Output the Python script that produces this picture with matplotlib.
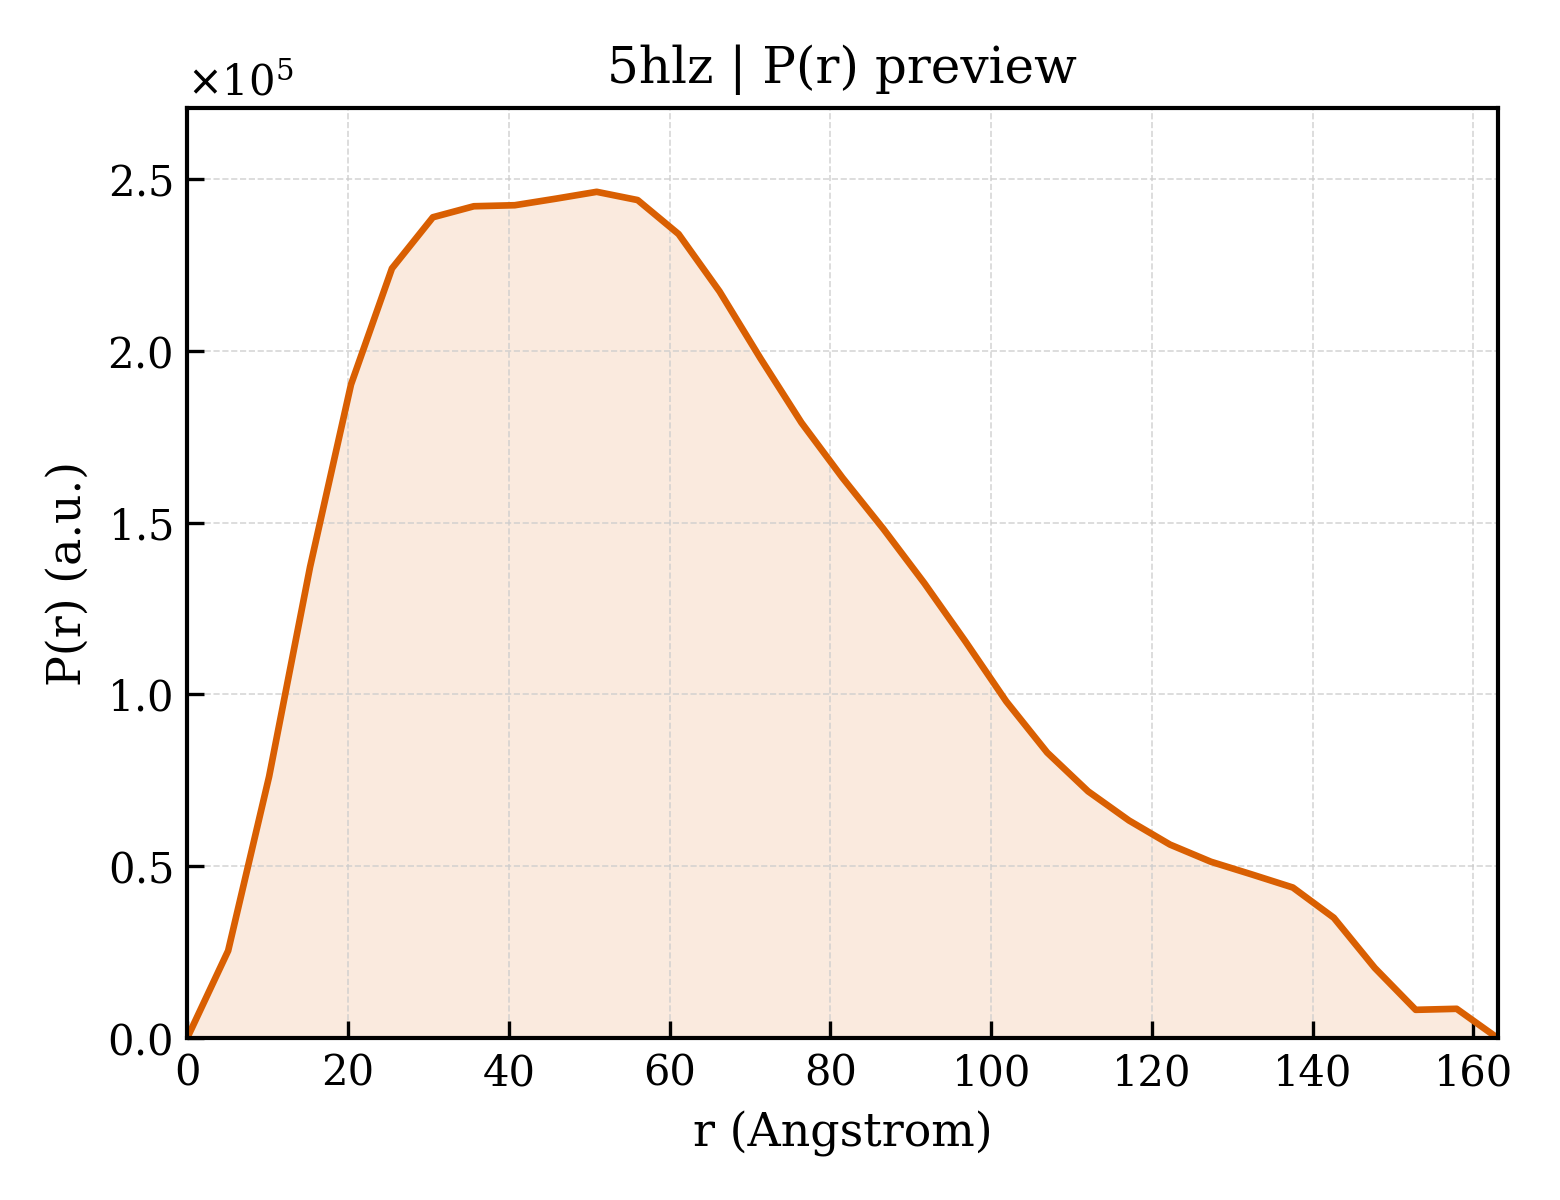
import numpy as np
import matplotlib
matplotlib.use("Agg")
import matplotlib.pyplot as plt

plt.rcParams["font.family"] = "DejaVu Serif"

r_max = 163.0
pr = [0.0, 0.254, 0.761, 1.371, 1.902, 2.240, 2.389, 2.421, 2.424, 2.443,
      2.463, 2.439, 2.340, 2.173, 1.978, 1.791, 1.631, 1.482, 1.324, 1.155,
      0.980, 0.831, 0.718, 0.633, 0.563, 0.513, 0.476, 0.438, 0.350, 0.204,
      0.082, 0.085, 0.0]
pr = np.array(pr) * 1e5
r = np.linspace(0, r_max, len(pr))

fig, ax = plt.subplots(figsize=(5.2, 4), dpi=300)
color = "#d95f02"
ax.fill_between(r, pr, color=color, alpha=0.13, linewidth=0)
ax.plot(r, pr, color=color, lw=1.6)

ax.set_xlim(0, r_max)
ax.set_ylim(0, 2.707e5)
ax.set_xlabel("r (Angstrom)", fontsize=11)
ax.set_ylabel("P(r) (a.u.)", fontsize=11)
ax.set_title("5hlz | P(r) preview", fontsize=12)
ax.ticklabel_format(axis="y", style="sci", scilimits=(0, 0), useMathText=True)
ax.tick_params(direction="in", labelsize=10, length=4)
ax.grid(True, ls="--", lw=0.4, color="#cccccc", alpha=0.8)
for s in ax.spines.values():
    s.set_linewidth(1.0)

fig.subplots_adjust(left=0.12, right=0.96, bottom=0.135, top=0.91)
fig.savefig("out.png", dpi=300)
